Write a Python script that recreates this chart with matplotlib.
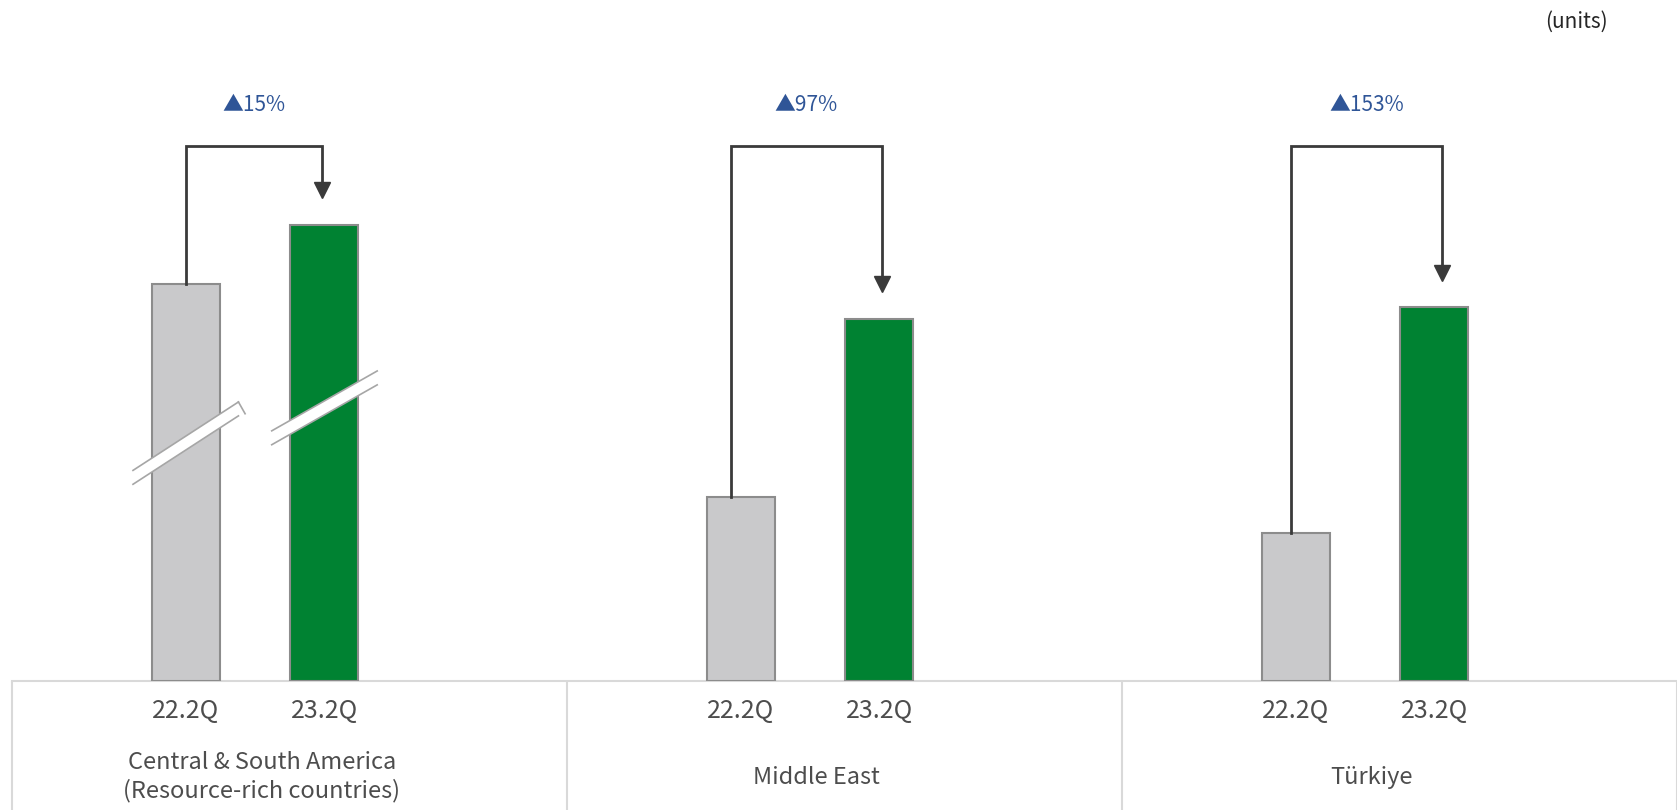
import matplotlib.pyplot as plt
from matplotlib.patches import Polygon

plt.rcParams['font.family'] = ['Noto Sans CJK KR', 'DejaVu Sans']

# data (heights, arbitrary units; first group has a broken axis)
regions = ["Central & South America\n(Resource-rich countries)", "Middle East", "Türkiye"]
periods = ["22.2Q", "23.2Q"]
q22 = [371, 172, 138]
q23 = [427, 339, 350]
growth = [15, 97, 153]

gray = "#C9C9CB"
green = "#008232"
edge = "#8C8C8C"
box = "#D9D9D9"
dark = "#3A3A3A"
blue = "#2F5597"

fig = plt.figure(figsize=(16.77, 8.10), dpi=100)
ax = fig.add_axes([12 / 1677, 129 / 810, 1665 / 1677, 681 / 810])
ax.set_xlim(-0.5, 2.5)
ax.set_ylim(0, 637)
ax.axis("off")

w = 0.1225
off1, off2 = -0.187, 0.063
x = list(range(len(regions)))
x1 = [i + off1 for i in x]
x2 = [i + off2 for i in x]

ax.bar(x1, q22, width=w, color=gray, edgecolor=edge, linewidth=1.5, zorder=2)
ax.bar(x2, q23, width=w, color=green, edgecolor=edge, linewidth=1.5, zorder=2)

# frame under the bars
ax.axhline(0, color=box, linewidth=1.5, zorder=1, xmin=0, xmax=1, clip_on=False)
xt = ax.get_xaxis_transform()
ax.vlines([-0.5, 0.5, 1.5, 2.5], -0.2, 0, transform=xt, color=box, linewidth=1.5, clip_on=False)

for i in x:
    ax.text(x1[i], -0.044, periods[0], transform=xt, ha="center", va="center", fontsize=18, color="#4D4D4D")
    ax.text(x2[i], -0.044, periods[1], transform=xt, ha="center", va="center", fontsize=18, color="#4D4D4D")
    ax.text(i - 0.05, -0.141, regions[i], transform=xt, ha="center", va="center", fontsize=17,
            color="#4D4D4D", linespacing=1.25)

# growth brackets (ends sit slightly off the bar centres, as in the original)
top = 500
gap = 25
shift_l = [0.0, -0.018, -0.009]
shift_r = [-0.004, 0.005, 0.014]
for i in x:
    xl = x1[i] + shift_l[i]
    xr = x2[i] + shift_r[i]
    ax.plot([xl, xl, xr, xr], [q22[i], top, top, q23[i] + gap + 14],
            color=dark, linewidth=2, solid_joinstyle="miter", zorder=3)
    ax.plot(xr, q23[i] + gap + 7, marker="v", markersize=12, color=dark, zorder=3)
    ax.text((xl + xr) / 2, top + 39, f"▲{growth[i]}%", ha="center", va="center",
            fontsize=15, color=blue)

# axis-break marks on the first group
def brk(xc, yc, dx, dy, t, cap):
    pts = [(xc - dx, yc - dy), (xc + dx, yc + dy), (xc + dx, yc + dy - t), (xc - dx, yc - dy - t)]
    ax.add_patch(Polygon(pts, closed=True, facecolor="white", edgecolor="none", zorder=4))
    ax.plot([pts[0][0], pts[1][0]], [pts[0][1], pts[1][1]], color="#A6A6A6", linewidth=1.2, zorder=5)
    ax.plot([pts[3][0], pts[2][0]], [pts[3][1], pts[2][1]], color="#A6A6A6", linewidth=1.2, zorder=5)
    if cap:
        ax.plot([pts[1][0], pts[2][0] + 0.012], [pts[1][1], pts[2][1] + 2], color="#A6A6A6",
                linewidth=1.2, zorder=5)

brk(x1[0], 229, 0.095, 32, 13, True)
brk(x2[0], 262, 0.095, 28, 13, False)

fig.text(1608 / 1677, 1 - 22 / 810, "(units)", ha="right", va="center", fontsize=15, color="#262626")

fig.savefig("out.png", dpi=100)
